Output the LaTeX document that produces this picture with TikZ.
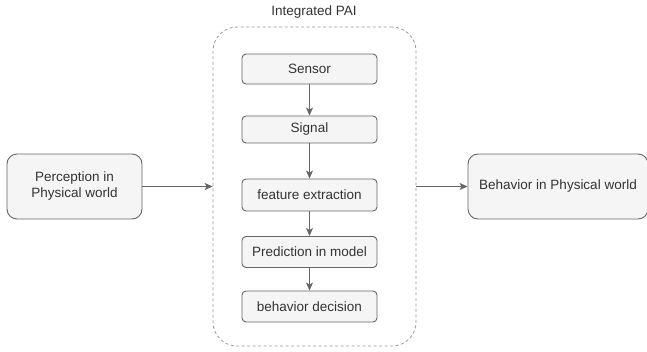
\documentclass[tikz,border=0pt]{standalone}
\usepackage{fontspec}
\setmainfont{Liberation Sans}
\usetikzlibrary{arrows.meta}
\definecolor{boxfill}{HTML}{F5F5F5}
\definecolor{boxline}{HTML}{666666}
\definecolor{boxtext}{HTML}{333333}
\definecolor{dashline}{HTML}{999999}
\begin{document}
\begin{tikzpicture}[x=1pt,y=-1pt]
			\tikzstyle{every node}=[font=\fontsize{13.5}{16}\selectfont, text=boxtext]
			\tikzstyle{stage}=[draw=boxline, fill=boxfill, line width=0.9pt, rounded corners=4pt, minimum width=135pt, inner sep=0pt]
			\tikzstyle{world}=[draw=boxline, fill=boxfill, line width=0.9pt, rounded corners=10pt, minimum height=65pt, inner sep=0pt, align=center]
			\tikzstyle{arrow}=[draw=boxline, line width=1.2pt, -{Stealth[length=8pt, width=7pt, inset=2pt]}]
			\useasboundingbox (0,0) rectangle (647,351);
			% outer PAI container
			\node[draw=dashline, dash pattern=on 3pt off 2.5pt, line width=0.8pt, rounded corners=24pt, minimum width=203pt, minimum height=319pt] (pai) at (314.5,186.5){};
			\node (title) at (314,12){Integrated PAI};
			% stages inside
			\node[stage, minimum height=30pt] (sensor) at (309.5,69){Sensor};
			\node[stage, minimum height=27pt] (signal) at (309.5,129.5){Signal};
			\node[stage, minimum height=32pt] (feature) at (309.5,195){feature extraction};
			\node[stage, minimum height=31pt] (predict) at (309.5,252){Prediction in model};
			\node[stage, minimum height=31pt] (decide) at (309.5,306.5){behavior decision};
			% physical world
			\node[world, minimum width=135pt] (perc) at (74.5,186.5){Perception in\\Physical world};
			\node[world, minimum width=180pt] (behav) at (558,186.5){Behavior in Physical world};
			\draw[arrow] (sensor) -- (signal);
			\draw[arrow] (signal) -- (feature);
			\draw[arrow] (feature) -- (predict);
			\draw[arrow] (predict) -- (decide);
			\draw[arrow] (perc) -- (pai);
			\draw[arrow] (pai) -- (behav);
		\end{tikzpicture}
\end{document}
